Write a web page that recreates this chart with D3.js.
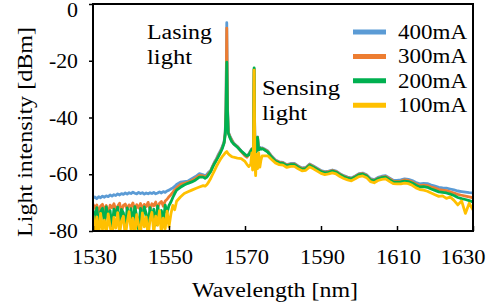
<!DOCTYPE html>
<html><head><meta charset="utf-8">
<script src="https://cdn.jsdelivr.net/npm/d3@7"></script>
<style>body{margin:0;background:#fff}</style>
</head><body><svg id="c" width="494" height="306"></svg>
<script>
const wavelength = [
1530,1530.5,1531,1531.5,1532,1532.5,1533,1533.5,1534,1534.5,
1535,1535.5,1536,1536.5,1537,1537.5,1538,1538.5,1539,1539.5,
1540,1540.5,1541,1541.5,1542,1542.5,1543,1543.5,1544,1544.5,
1545,1545.5,1546,1546.5,1547,1547.5,1548,1548.5,1549,1549.5,
1550,1550.5,1551,1551.5,1552,
1553,1554,1555,1556,1557,1558,1559,1559.5,1560,1560.5,
1561,1561.5,1562,1562.5,1563,1563.5,1564,1564.5,1564.8,1565,
1565.2,1565.4,1565.6,1566,1566.5,1567,1568,1569,1570,1570.5,
1571,1571.5,1571.8,1572,1572.2,1572.4,1572.6,1572.8,1573,1573.3,
1573.6,1573.9,1574.2,1574.5,1575,1576,1577,1578,1579,1580,
1581,1582,1583,1584,1585,1586,1587,1588,1589,1590,
1591,1592,1593,1594,1595,1596,1597,1598,1599,1600,
1601,1602,1603,1604,1605,1606,1607,1608,1609,1610,
1611,1612,1613,1614,1615,1616,1617,1618,1619,1620,
1621,1622,1623,1624,1625,1626,1627,1628,1629,1630];

const power400 = [
-68.4,-68.0,-68.6,-67.9,-68.3,-67.7,-68.1,-67.6,-67.9,-67.3,
-67.7,-67.2,-67.5,-66.9,-67.3,-66.8,-67.1,-66.6,-67.0,-66.5,
-66.8,-66.3,-66.7,-66.9,-66.4,-66.8,-66.5,-67.0,-66.6,-66.9,
-66.5,-66.8,-66.4,-66.9,-66.6,-66.2,-66.6,-66.1,-66.4,-65.9,
-65.6,-65.2,-64.8,-64.3,-63.6,
-62.8,-62.6,-62.4,-61.6,-60.8,-59.8,-60.2,-60.6,-60.0,-59.2,
-58.6,-57.0,-55.6,-54.5,-53.0,-51.8,-50.3,-48.5,-45.0,-36.0,
-6.6,-36.0,-45.0,-46.5,-47.8,-49.0,-50.2,-51.8,-53.3,-53.8,
-52.8,-51.6,-51.0,-51.2,-50.7,-23.0,-51.2,-52.2,-51.5,-46.8,
-51.2,-50.5,-50.9,-50.7,-51.0,-51.8,-53.6,-55.0,-55.6,-55.8,
-56.6,-56.2,-56.2,-57.1,-57.8,-57.6,-56.4,-57.1,-57.9,-58.7,
-59.1,-58.9,-58.5,-58.9,-59.8,-60.5,-61.0,-61.3,-60.6,-59.8,
-59.6,-60.2,-61.5,-61.9,-61.1,-60.7,-60.5,-61.3,-62.1,-62.2,
-62.0,-61.6,-61.8,-62.2,-62.9,-63.4,-63.2,-63.3,-63.8,-64.2,
-64.6,-64.8,-64.9,-65.2,-65.5,-65.9,-66.1,-66.3,-66.5,-66.6];

const power300 = [
-70.5,-72.0,-70.8,-73.5,-71.2,-70.6,-72.8,-71.0,-74.2,-70.9,
-71.8,-70.4,-72.6,-71.3,-70.2,-73.1,-71.0,-70.5,-72.4,-70.8,
-71.5,-70.1,-73.0,-70.7,-71.9,-70.3,-72.2,-70.6,-71.4,-69.9,
-72.5,-70.4,-71.1,-69.8,-72.0,-70.2,-69.6,-71.3,-69.4,-68.8,
-67.9,-67.2,-66.4,-65.5,-64.8,
-63.6,-63.2,-62.8,-62.2,-61.4,-60.4,-60.6,-61.0,-60.5,-59.6,
-58.8,-57.2,-55.9,-54.8,-53.4,-52.2,-50.7,-48.8,-45.5,-37.0,
-8.5,-37.0,-45.2,-46.8,-48.0,-49.2,-50.3,-52.0,-53.5,-54.0,
-53.0,-51.8,-51.1,-51.4,-50.9,-23.0,-51.4,-52.4,-51.7,-47.0,
-51.4,-50.7,-51.0,-50.9,-51.2,-52.0,-53.8,-55.2,-55.8,-56.0,
-56.8,-56.4,-56.4,-57.3,-58.0,-57.8,-56.6,-57.3,-58.1,-58.9,
-59.3,-59.1,-58.7,-59.1,-60.0,-60.7,-61.2,-61.5,-60.8,-60.0,
-59.8,-60.4,-61.8,-62.2,-61.4,-61.0,-60.8,-61.6,-62.4,-62.5,
-62.4,-62.0,-62.2,-62.7,-63.4,-64.0,-63.8,-64.0,-64.5,-64.9,
-65.4,-65.6,-65.8,-66.2,-66.6,-67.1,-67.4,-67.7,-68.0,-68.3];

const power200 = [
-72.5,-76.0,-71.8,-78.5,-73.2,-72.0,-77.6,-71.5,-75.8,-72.8,
-79.0,-72.3,-74.5,-71.6,-77.8,-72.4,-73.6,-78.8,-71.9,-75.2,
-72.1,-77.5,-71.4,-74.8,-79.5,-72.0,-76.3,-71.5,-73.9,-78.2,
-71.8,-75.6,-72.3,-77.9,-71.2,-74.5,-72.8,-76.8,-70.9,-73.5,
-71.0,-69.8,-68.2,-66.8,-65.6,
-64.6,-63.8,-63.2,-62.7,-62.0,-61.0,-61.0,-61.4,-61.0,-60.0,
-59.0,-57.5,-56.2,-55.0,-53.8,-52.5,-51.0,-49.0,-46.0,-38.0,
-20.5,-38.0,-45.5,-47.0,-48.5,-49.3,-50.5,-51.8,-53.0,-53.5,
-53.2,-52.0,-51.3,-51.5,-51.0,-22.5,-51.5,-52.5,-51.8,-47.0,
-51.5,-50.8,-51.2,-51.0,-51.3,-52.2,-54.0,-55.4,-56.0,-56.2,
-57.0,-56.6,-56.6,-57.5,-58.2,-58.0,-56.8,-57.5,-58.3,-59.1,
-59.5,-59.3,-58.9,-59.3,-60.2,-60.9,-61.4,-61.7,-61.0,-60.2,
-60.0,-60.6,-62.0,-62.4,-61.6,-61.2,-61.0,-61.9,-62.7,-62.8,
-62.7,-62.4,-62.6,-63.1,-63.9,-64.5,-64.4,-64.6,-65.2,-65.7,
-66.2,-66.4,-66.6,-67.0,-67.5,-68.2,-68.6,-68.9,-69.3,-69.8];

const power100 = [
-74.5,-80.5,-75.0,-82.0,-73.8,-79.5,-76.2,-81.0,-74.0,-78.5,
-82.0,-75.2,-79.0,-73.5,-81.0,-76.5,-74.8,-82.0,-77.0,-73.2,
-79.8,-75.5,-82.0,-74.2,-77.8,-81.0,-73.6,-78.5,-75.0,-82.0,
-76.0,-73.4,-80.5,-74.8,-78.0,-72.8,-81.0,-75.5,-79.2,-73.0,
-78.5,-74.0,-71.0,-72.5,-69.5,
-68.0,-66.8,-66.2,-65.6,-65.0,-64.5,-64.0,-64.2,-63.6,-62.6,
-61.4,-60.0,-58.6,-57.2,-56.0,-54.8,-53.8,-53.0,-52.5,-52.2,
-52.0,-52.4,-52.8,-53.3,-53.8,-54.0,-54.3,-54.5,-55.5,-56.5,
-57.3,-56.5,-52.5,-58.5,-55.0,-23.3,-56.0,-60.5,-53.0,-58.0,
-52.5,-57.5,-55.0,-53.5,-53.5,-53.5,-54.8,-56.0,-56.6,-56.8,
-57.6,-57.2,-57.2,-58.1,-58.8,-58.6,-57.4,-58.1,-58.9,-59.7,
-60.1,-59.9,-59.5,-59.9,-60.8,-61.5,-62.0,-62.3,-61.6,-60.8,
-60.6,-61.2,-62.6,-63.0,-62.2,-61.8,-61.6,-62.5,-63.3,-63.4,
-63.4,-63.1,-63.3,-63.9,-64.8,-65.4,-65.6,-66.0,-66.6,-67.2,
-67.8,-67.6,-68.5,-68.0,-69.2,-70.8,-69.4,-73.8,-70.2,-72.5];

const seriesNames = ["400mA", "300mA", "200mA", "100mA"];
const seriesColors = ["#5B9BD5", "#ED7D31", "#00B050", "#FFC000"];
const xTicks = [1530, 1550, 1570, 1590, 1610, 1630];
const yTicks = [0, -20, -40, -60, -80];
const xTitle = "Wavelength [nm]";
const yTitle = "Light intensity [dBm]";

const FONT = "'Liberation Serif', 'Times New Roman', serif";
const FS = 20;
const svg = d3.select("#c");
const L = 93, R = 473, T = 4, B = 231;
const x = d3.scaleLinear().domain([1530, 1630]).range([L, R]);
const y = d3.scaleLinear().domain([-80, 0]).range([B, T]);

svg.append("clipPath").attr("id", "clip").append("rect")
  .attr("x", L).attr("y", T).attr("width", R - L).attr("height", B - T);

const allSeries = [power400, power300, power200, power100];
const line = d3.line().x(d => x(d[0])).y(d => y(d[1]));
const gLines = svg.append("g").attr("clip-path", "url(#clip)");
allSeries.forEach((vals, i) => {
  const pts = d3.zip(wavelength, vals);
  gLines.append("path").datum(pts)
    .attr("fill", "none").attr("stroke", seriesColors[i])
    .attr("stroke-width", 2.8).attr("stroke-linejoin", "round")
    .attr("d", line);
});

// frame
svg.append("rect").attr("x", L).attr("y", T).attr("width", R - L).attr("height", B - T)
  .attr("fill", "none").attr("stroke", "#000").attr("stroke-width", 2);

function styleText(sel) {
  sel.attr("font-family", FONT).attr("font-size", FS).attr("fill", "#000");
}

// x axis (ticks inward)
const xAxis = d3.axisBottom(x).tickValues(xTicks).tickSizeInner(-5).tickSizeOuter(0).tickFormat(d => String(d));
const gx = svg.append("g").attr("transform", `translate(0,${B})`).call(xAxis);
gx.select(".domain").remove();
gx.selectAll(".tick line").attr("stroke", "#000").attr("stroke-width", 1.5);
gx.selectAll("text").call(styleText)
  .attr("y", 32.5).attr("dy", null)
  .attr("textLength", 45).attr("lengthAdjust", "spacingAndGlyphs")
  .attr("text-anchor", d => d === 1630 ? "end" : "middle")
  .attr("x", d => d === 1630 ? 12 : 1);

// y axis (ticks outward)
const yAxis = d3.axisLeft(y).tickValues(yTicks).tickSizeInner(4).tickSizeOuter(0).tickFormat(d => String(d));
const gy = svg.append("g").attr("transform", `translate(${L},0)`).call(yAxis);
gy.select(".domain").remove();
gy.selectAll(".tick line").attr("stroke", "#000").attr("stroke-width", 1.5);
gy.selectAll("text").call(styleText)
  .attr("x", -15).attr("dy", "0.33em")
  .attr("textLength", d => d === 0 ? 11 : 29).attr("lengthAdjust", "spacingAndGlyphs");
gy.selectAll(".tick").filter(d => d === 0).select("text").attr("y", 5.5);

// titles
svg.append("text").attr("x", 275).attr("y", 297).attr("text-anchor", "middle")
  .call(styleText).attr("textLength", 166).attr("lengthAdjust", "spacingAndGlyphs").text(xTitle);
svg.append("text").attr("transform", `translate(32,132) rotate(-90)`)
  .attr("text-anchor", "middle").call(styleText)
  .attr("textLength", 210).attr("lengthAdjust", "spacingAndGlyphs").text(yTitle);

// annotations
const annotations = [
  { text: "Lasing", px: 147, base: 38.5, w: 65 },
  { text: "light", px: 147, base: 63.5, w: 45 },
  { text: "Sensing", px: 262, base: 94.5, w: 78 },
  { text: "light", px: 262, base: 120, w: 45 }
];
annotations.forEach(a => {
  svg.append("text").attr("x", a.px).attr("y", a.base).call(styleText)
    .attr("textLength", a.w).attr("lengthAdjust", "spacingAndGlyphs").text(a.text);
});

// legend
const leg = svg.append("g");
seriesNames.forEach((name, i) => {
  const yy = 32 + i * 24.4;
  leg.append("line").attr("x1", 353).attr("x2", 386).attr("y1", yy).attr("y2", yy)
    .attr("stroke", seriesColors[i]).attr("stroke-width", 5);
  leg.append("text").attr("x", 398).attr("y", yy + 7).call(styleText)
    .attr("textLength", 69).attr("lengthAdjust", "spacingAndGlyphs").text(name);
});
</script>
</body></html>
